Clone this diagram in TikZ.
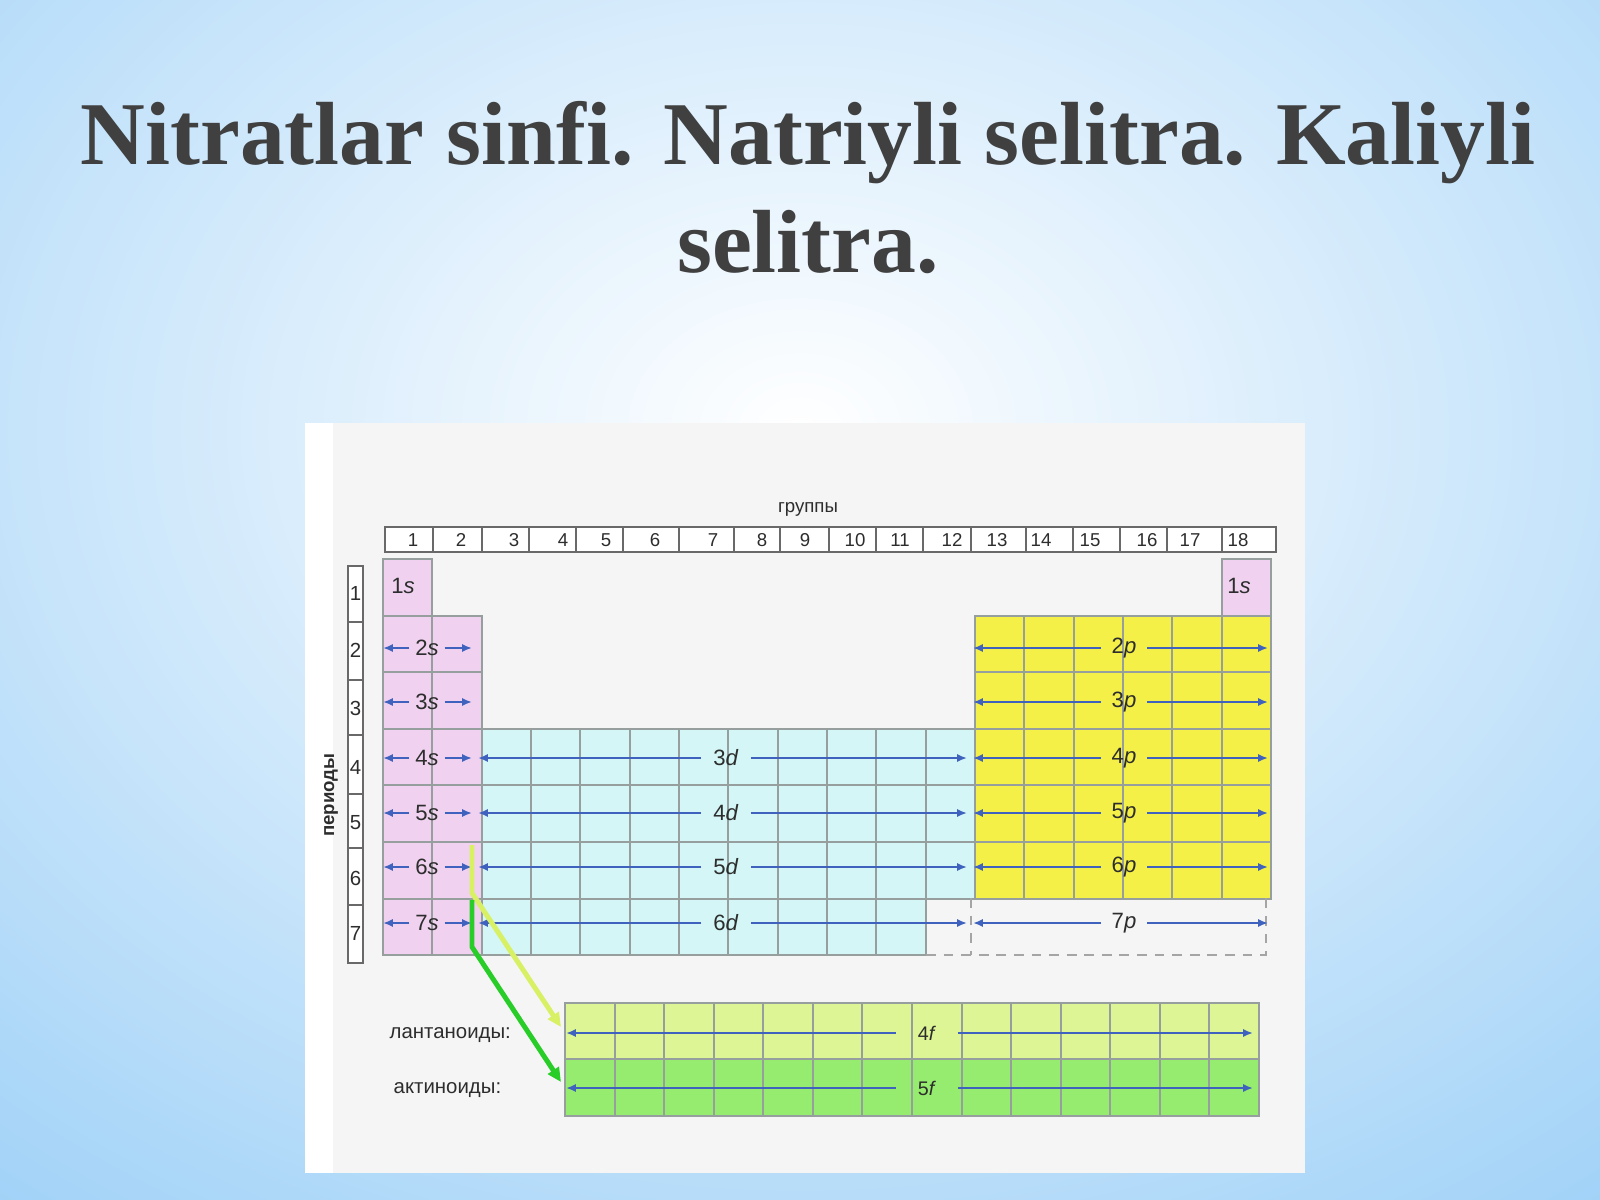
\documentclass[tikz,border=0pt]{standalone}
\usepackage{fontspec}
\setmainfont{Liberation Serif}
\newfontfamily\tabfont{Liberation Sans}
\usetikzlibrary{positioning, arrows.meta, calc}
\definecolor{bgblue}{RGB}{132,196,245}
\definecolor{titlegray}{RGB}{64,64,64}
\definecolor{panelgray}{RGB}{245,245,245}
\definecolor{boxgray}{RGB}{105,105,105}
\definecolor{cellgray}{RGB}{150,158,158}
\definecolor{dashgray}{RGB}{165,165,165}
\definecolor{txtgray}{RGB}{45,45,45}
\definecolor{sblock}{RGB}{240,210,240}
\definecolor{dblock}{RGB}{212,246,246}
\definecolor{pblock}{RGB}{244,240,72}
\definecolor{fone}{RGB}{222,245,150}
\definecolor{ftwo}{RGB}{150,236,110}
\definecolor{arblue}{RGB}{62,98,190}
\definecolor{lanline}{RGB}{215,240,100}
\definecolor{actline}{RGB}{40,205,40}
\tikzset{
  title/.style={font=\bfseries\fontsize{25.5}{31}\selectfont, text=titlegray, inner sep=0pt},
  cell/.style={draw=cellgray, line width=0.55pt, fill=#1},
  hdr/.style={draw=boxgray, line width=0.45pt, fill=white},
  num/.style={font=\tabfont\fontsize{5.3}{6}\selectfont, text=txtgray, inner sep=0pt},
  orb/.style={font=\tabfont\fontsize{6.3}{7}\selectfont, text=txtgray, inner ysep=0pt},
  blar/.style={draw=arblue, line width=0.8pt, -{Latex[length=2.8pt,width=2.3pt]}},
  lnk/.style={line width=1.4pt, line join=round, -{Triangle[length=4pt,width=3.6pt]}}
}
\begin{document}
\begin{tikzpicture}[x=0.01cm, y=-0.01cm]
\useasboundingbox (0,0) rectangle (1600,1200);
\begin{scope}
\clip (0,0) rectangle (1600,1200);
\shade[inner color=white, outer color=bgblue] (800,430) ellipse (1700 and 1300);
\end{scope}
\node[title, anchor=base] (title) at (808,164) {Nitratlar sinfi. Natriyli selitra. Kaliyli};
\node[title, anchor=base] (titleb) at (808,272) {selitra.};
\fill[white] (305,423) rectangle (1305,1173);
\fill[panelgray] (333,423) rectangle (1305,1173);
\def\cw{49.33}
\def\ch{56.6}
\node[num] (grp) at (808,509) {группы};
\foreach \a/\b/\n/\p in {385/433/1/413, 433/482/2/461, 482/529/3/514, 529/576/4/563, 576/623/5/606, 623/679/6/655, 679/734/7/713, 734/780/8/762, 780/829/9/805, 829/876/10/855, 876/923/11/900, 923/971/12/952, 971/1026/13/997, 1026/1073/14/1041, 1073/1120/15/1090, 1120/1167/16/1147, 1167/1222/17/1190, 1222/1276/18/1238}{
  \draw[hdr] (\a,527) rectangle (\b,552);
  \node[num] (g\n) at (\p,540) {\n};
}
\foreach \a/\b/\n/\p in {566/622/1/593, 622/680/2/650, 680/735/3/708, 735/794/4/767, 794/848/5/823, 848/905/6/878, 905/963/7/933}{
  \draw[hdr] (348,\a) rectangle (363,\b);
  \node[num, font=\tabfont\fontsize{5.8}{6}\selectfont] (per\n) at (355.5,\p) {\n};
}
\node[num, font=\tabfont\bfseries\fontsize{5.3}{6}\selectfont, rotate=90] (per) at (331,795) {периоды};
\foreach \r in {1,...,7} \draw[cell=sblock] (383,{559+(\r-1)*\ch}) rectangle ++(\cw,\ch);
\foreach \r in {2,...,7} \draw[cell=sblock] ({383+\cw},{559+(\r-1)*\ch}) rectangle ++(\cw,\ch);
\draw[cell=sblock] ({383+17*\cw},559) rectangle ++(\cw,\ch);
\foreach \c in {3,...,12} \foreach \r in {4,5,6} \draw[cell=dblock] ({383+(\c-1)*\cw},{559+(\r-1)*\ch}) rectangle ++(\cw,\ch);
\foreach \c in {3,...,11} \draw[cell=dblock] ({383+(\c-1)*\cw},{559+6*\ch}) rectangle ++(\cw,\ch);
\foreach \c in {13,...,18} \foreach \r in {2,...,6} \draw[cell=pblock] ({383+(\c-1)*\cw},{559+(\r-1)*\ch}) rectangle ++(\cw,\ch);
\foreach \c in {1,...,14}{
  \draw[cell=fone] ({565+(\c-1)*49.57},1003) rectangle ++(49.57,56);
  \draw[cell=ftwo] ({565+(\c-1)*49.57},1059) rectangle ++(49.57,57);
}
\draw[dashgray, line width=0.55pt, dash pattern=on 2.8pt off 2.2pt] (926,955) -- (1266,955) -- (1266,898);
\draw[dashgray, line width=0.55pt, dash pattern=on 2.8pt off 2.2pt] (971,898) -- (971,955);
\node[orb] (s1a) at (403,586) {1\textit{s}};
\node[orb] (s1b) at (1239,586) {1\textit{s}};
\foreach \r/\y in {2/648,3/702,4/758,5/813,6/867,7/923}{
  \node[orb, inner xsep=1.5pt] (s\r) at (427,\y) {\r\textit{s}};
  \coordinate (sl\r) at (383,\y);
  \coordinate (sr\r) at (472,\y);
  \draw[blar] (s\r) -- (sl\r);
  \draw[blar] (s\r) -- (sr\r);
}
\foreach \r/\n/\y in {4/3/758,5/4/813,6/5/867,7/6/923}{
  \node[orb, inner xsep=3.3pt] (d\r) at (726,\y) {\n\textit{d}};
  \coordinate (dl\r) at (478,\y);
  \coordinate (dr\r) at (967,\y);
  \draw[blar] (d\r) -- (dl\r);
  \draw[blar] (d\r) -- (dr\r);
}
\foreach \r/\y in {2/648,3/702,4/758,5/813,6/867,7/923}{
  \node[orb, inner xsep=2.8pt] (p\r) at (1124,\y) {\r\textit{p}};
  \coordinate (pl\r) at (973,\y);
  \coordinate (pr\r) at (1268,\y);
  \draw[blar] (p\r) -- (pl\r);
  \draw[blar] (p\r) -- (pr\r);
}
\foreach \n/\y in {4/1033,5/1088}{
  \node[orb, font=\tabfont\fontsize{5.6}{7}\selectfont, inner xsep=6pt] (f\n) at (927,\y) {\n\textit{f}};
  \coordinate (fl\n) at (566,\y);
  \coordinate (fr\n) at (1253,\y);
  \draw[blar] (f\n) -- (fl\n);
  \draw[blar] (f\n) -- (fr\n);
}
\node[orb, font=\tabfont\fontsize{5.8}{7}\selectfont, anchor=west, inner sep=0pt] (lan) at (389,1035) {лантаноиды:};
\node[orb, font=\tabfont\fontsize{5.8}{7}\selectfont, anchor=west, inner sep=0pt] (act) at (393,1090) {актиноиды:};
\coordinate (la) at (472,845);
\coordinate (lb) at (472,893);
\coordinate (lc) at (561,1027);
\coordinate (aa) at (472,900);
\coordinate (ab) at (472,947);
\coordinate (ac) at (561,1082);
\draw[lnk, draw=lanline] (la) -- (lb) -- (lc);
\draw[lnk, draw=actline] (aa) -- (ab) -- (ac);
\end{tikzpicture}
\end{document}
